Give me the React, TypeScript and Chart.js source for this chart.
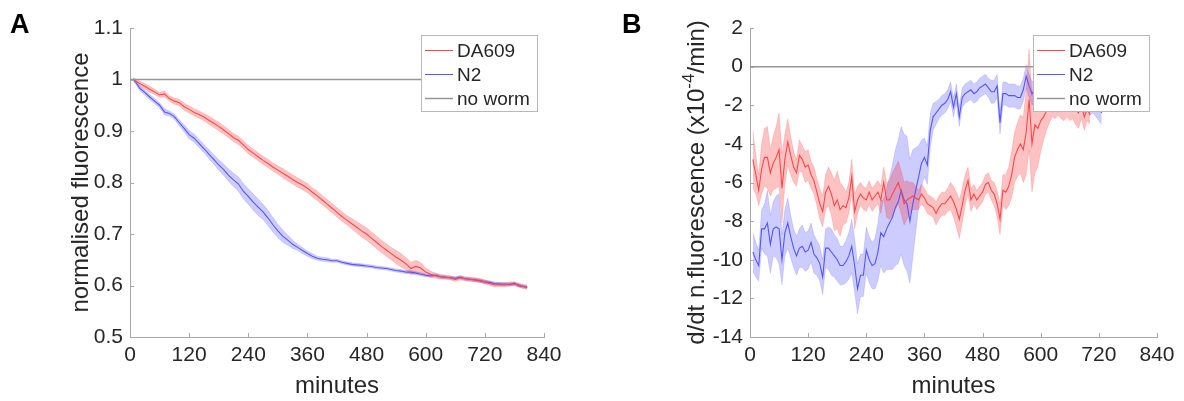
import React, { useEffect, useRef } from "react";
import { Chart, registerables } from "chart.js";

Chart.register(...registerables);

const FONT = '"Liberation Sans", Arial, Helvetica, sans-serif';
const TXT = "#262626";
const AXIS = "#a8a8a8";
const RED = "rgb(255,70,70)";
const BLUE = "rgb(85,85,255)";
const GRAY = "rgb(150,150,150)";
const RED_FILL = "rgba(255,0,0,0.24)";
const BLUE_FILL = "rgba(0,0,255,0.2)";
const RED_EDGE = "rgba(255,0,0,0.18)";
const BLUE_EDGE = "rgba(0,0,255,0.15)";

// ---------- tick labels / legend ----------
const xTicks = [0, 120, 240, 360, 480, 600, 720, 840];
const yTicksA = [0.5, 0.6, 0.7, 0.8, 0.9, 1, 1.1];
const yTicksB = [-14, -12, -10, -8, -6, -4, -2, 0, 2];
const legendLabels = ["DA609", "N2", "no worm"];

// ---------- panel A: normalised fluorescence ----------
const timeA = [
  6, 10, 20, 30, 40, 50, 60, 70, 80, 90, 100, 110, 120, 130, 140, 150, 160, 170, 180, 190, 200,
  210, 220, 230, 240, 250, 260, 270, 280, 290, 300, 310, 320, 330, 340, 350, 360, 370, 380, 390, 400,
  410, 420, 430, 440, 450, 460, 470, 480, 490, 500, 510, 520, 530, 540, 550, 560, 570, 580, 590, 600,
  610, 620, 630, 640, 650, 660, 670, 680, 690, 700, 710, 720, 730, 740, 750, 760, 770, 780, 790, 800, 806,
];
const da609A = [
  1.0, 0.998, 0.992, 0.987, 0.981, 0.976, 0.97, 0.972, 0.963, 0.958, 0.955,
  0.947, 0.942, 0.936, 0.932, 0.927, 0.921, 0.915, 0.909, 0.902, 0.895,
  0.887, 0.882, 0.873, 0.864, 0.857, 0.85, 0.843, 0.837, 0.83, 0.824,
  0.818, 0.812, 0.806, 0.8, 0.795, 0.789, 0.781, 0.774, 0.766, 0.758,
  0.75, 0.742, 0.734, 0.727, 0.72, 0.713, 0.706, 0.7, 0.692, 0.684,
  0.676, 0.669, 0.662, 0.655, 0.649, 0.642, 0.633, 0.637, 0.634, 0.626,
  0.622, 0.619, 0.617, 0.616, 0.615, 0.612, 0.615, 0.613, 0.612, 0.611,
  0.61, 0.607, 0.604, 0.601, 0.602, 0.601, 0.603, 0.603, 0.601, 0.597, 0.598,
];
const da609ABand = [
  0.002, 0.004, 0.005, 0.005, 0.006, 0.005, 0.005, 0.006, 0.005, 0.006, 0.006,
  0.007, 0.007, 0.007, 0.007, 0.007, 0.008, 0.008, 0.008, 0.008, 0.008,
  0.008, 0.008, 0.008, 0.008, 0.008, 0.008, 0.008, 0.008, 0.008, 0.008,
  0.009, 0.009, 0.009, 0.009, 0.009, 0.009, 0.009, 0.009, 0.009, 0.009,
  0.009, 0.009, 0.009, 0.009, 0.01, 0.011, 0.012, 0.012, 0.012, 0.012,
  0.012, 0.012, 0.012, 0.013, 0.013, 0.012, 0.012, 0.012, 0.01, 0.008,
  0.006, 0.005, 0.005, 0.004, 0.004, 0.004, 0.004, 0.004, 0.004, 0.004,
  0.004, 0.004, 0.004, 0.004, 0.004, 0.004, 0.004, 0.004, 0.004, 0.004, 0.004,
];
const n2A = [
  1.0, 0.997, 0.983, 0.975, 0.966, 0.958, 0.95, 0.937, 0.934, 0.928, 0.916,
  0.905, 0.893, 0.886, 0.876, 0.866, 0.855, 0.845, 0.834, 0.825, 0.814,
  0.805, 0.797, 0.783, 0.773, 0.762, 0.752, 0.743, 0.731, 0.718, 0.706,
  0.696, 0.688, 0.68, 0.674, 0.668, 0.662, 0.657, 0.653, 0.651, 0.65,
  0.648, 0.648, 0.645, 0.643, 0.641, 0.64, 0.639, 0.638, 0.637, 0.635,
  0.634, 0.633, 0.631, 0.629, 0.628, 0.626, 0.626, 0.624, 0.622, 0.62,
  0.619, 0.62, 0.617, 0.616, 0.615, 0.614, 0.616, 0.613, 0.612, 0.611,
  0.609, 0.607, 0.606, 0.604, 0.603, 0.603, 0.602, 0.604, 0.599, 0.598, 0.596,
];
const n2ABand = [
  0.002, 0.004, 0.005, 0.005, 0.005, 0.005, 0.005, 0.006, 0.005, 0.005, 0.006,
  0.007, 0.008, 0.008, 0.008, 0.008, 0.009, 0.009, 0.01, 0.011, 0.012,
  0.013, 0.014, 0.015, 0.015, 0.016, 0.016, 0.015, 0.015, 0.014, 0.013,
  0.012, 0.01, 0.008, 0.006, 0.006, 0.005, 0.005, 0.004, 0.004, 0.004,
  0.003, 0.003, 0.003, 0.003, 0.003, 0.003, 0.003, 0.003, 0.003, 0.003,
  0.003, 0.003, 0.003, 0.003, 0.003, 0.003, 0.003, 0.003, 0.003, 0.003,
  0.003, 0.003, 0.003, 0.003, 0.003, 0.003, 0.003, 0.003, 0.003, 0.003,
  0.003, 0.003, 0.003, 0.003, 0.003, 0.003, 0.003, 0.003, 0.003, 0.003, 0.003,
];
const noWormTime = [0, 800];
const noWormA = [1, 1];

// ---------- panel B: derivative (x10^-4 / min) ----------
const timeB = [
  6, 12, 18, 24, 30, 36, 42, 48, 54, 60, 66, 72, 78, 84, 90, 96, 102, 108, 114, 120,
  126, 132, 138, 144, 150, 156, 162, 168, 174, 180, 186, 192, 198, 204, 210, 216, 222, 228, 234, 240,
  246, 252, 258, 264, 270, 276, 282, 288, 294, 300, 306, 312, 318, 324, 330, 336, 342, 348, 354, 360,
  366, 372, 378, 384, 390, 396, 402, 408, 414, 420, 426, 432, 438, 444, 450, 456, 462, 468, 474, 480,
  486, 492, 498, 504, 510, 516, 522, 528, 534, 540, 546, 552, 558, 564, 570, 576, 582, 588, 594, 600,
  606, 612, 618, 624, 630, 636, 642, 648, 654, 660, 666, 672, 678, 684, 690, 696, 702, 708, 714, 720, 726,
];
const da609B = [
  -4.8, -5.6, -6.4, -5.3, -4.7, -4.7, -5.5, -5.0, -4.7, -4.3,
  -6.3, -4.8, -3.9, -4.6, -5.2, -5.5, -4.6, -4.8, -5.2, -5.1,
  -5.6, -5.9, -6.5, -7.1, -7.5, -6.5, -6.2, -6.6, -7.2, -6.9,
  -7.4, -7.2, -7.3, -6.8, -5.7, -7.5, -6.9, -6.6, -6.8, -6.9,
  -6.5, -6.9, -6.7, -6.5, -6.9, -6.0, -6.9, -6.9, -6.6, -6.3,
  -6.0, -6.5, -7.1, -6.9, -6.8, -6.7, -6.8, -6.9, -6.6, -6.8,
  -7.1, -7.2, -7.3, -7.6, -7.3, -7.1, -7.1, -6.9, -6.7, -7.0,
  -7.4, -7.9, -7.2, -6.4, -5.9, -6.9, -6.6, -6.9, -6.7, -6.5,
  -6.1, -6.0, -6.4, -6.6, -7.1, -7.9, -6.4, -6.5, -6.2, -5.6,
  -4.7, -4.3, -4.0, -4.3, -3.4, -1.7, -4.0, -3.0, -3.2, -2.8,
  -2.6, -2.3, -2.0, -1.8, -1.9, -1.7, -1.9, -2.0, -1.8, -2.0,
  -1.9, -2.2, -2.4, -2.0, -2.6, -2.2, -2.5,
];
const da609BBand = [
  1.5, 1.0, 0.8, 1.3, 1.5, 1.6, 1.2, 1.4, 1.6, 1.9,
  1.8, 1.3, 1.2, 1.0, 0.8, 0.7, 0.8, 0.7, 0.8, 0.8,
  0.7, 0.7, 0.7, 0.8, 0.8, 0.9, 1.0, 1.1, 1.3, 1.5,
  1.4, 1.0, 0.8, 0.8, 0.9, 0.9, 0.7, 0.6, 0.6, 0.6,
  0.6, 0.6, 0.6, 0.6, 0.7, 0.8, 0.9, 1.0, 1.1, 1.1,
  1.1, 1.1, 1.1, 1.0, 0.8, 0.7, 0.6, 0.5, 0.5, 0.5,
  0.5, 0.5, 0.5, 0.6, 0.6, 0.6, 0.6, 0.6, 0.7, 0.8,
  0.9, 1.0, 0.9, 0.8, 0.7, 0.6, 0.5, 0.5, 0.5, 0.5,
  0.5, 0.5, 0.5, 0.6, 0.7, 0.8, 0.8, 0.9, 1.0, 1.2,
  1.3, 1.4, 1.5, 1.7, 2.2, 2.6, 2.5, 2.5, 2.0, 1.6,
  1.2, 1.0, 0.9, 0.8, 0.8, 0.8, 0.8, 0.8, 0.8, 0.8,
  0.8, 0.8, 0.8, 0.7, 0.7, 0.6, 0.5,
];
const n2B = [
  -9.6, -10.0, -10.3, -8.4, -8.4, -8.1, -9.2, -8.4, -8.3, -8.4,
  -10.0, -8.6, -8.1, -8.8, -9.4, -9.8, -9.4, -9.3, -9.6, -9.5,
  -9.1, -9.7, -9.9, -10.2, -10.9, -9.4, -9.4, -9.6, -9.8, -10.0,
  -10.3, -10.3, -10.1, -9.8, -9.3, -10.3, -11.5, -10.8, -10.8, -9.5,
  -10.0, -10.3, -10.2, -9.6, -8.6, -8.8, -8.4, -8.1, -7.8, -7.3,
  -7.0, -6.4, -6.9, -7.1, -8.0, -7.1, -6.4, -5.7, -5.0, -4.7,
  -5.1, -3.3, -2.6, -2.4, -2.2, -2.0, -1.9, -1.7, -1.3, -2.1,
  -1.4, -2.6, -1.6, -1.4, -1.3, -1.2, -1.4, -1.3, -1.1, -1.0,
  -0.9, -1.1, -1.3, -1.3, -1.0, -2.9, -1.4, -1.4, -1.5, -1.5,
  -1.5, -1.6, -1.6, -1.2, -0.5, -1.0, -1.4, -1.2, -1.0, -1.2,
  -1.1, -1.3, -1.0, -1.2, -1.1, -1.4, -1.2, -1.3, -1.1, -1.5,
  -1.3, -1.4, -1.6, -1.4, -1.8, -1.6, -1.9, -1.8, -2.0, -2.2, -2.4,
];
const n2BBand = [
  1.0, 0.9, 0.8, 1.0, 1.3, 1.7, 1.5, 1.4, 1.6, 1.8,
  1.3, 1.2, 1.3, 1.1, 1.0, 1.0, 1.0, 1.1, 1.0, 1.0,
  1.0, 1.0, 0.9, 0.9, 0.9, 1.0, 1.1, 1.2, 1.1, 1.1,
  1.0, 1.0, 1.1, 1.2, 1.4, 1.4, 1.3, 1.1, 1.1, 1.2,
  1.2, 1.2, 1.3, 1.5, 1.7, 1.9, 2.1, 2.4, 2.7, 3.0,
  3.2, 3.3, 3.4, 3.5, 3.2, 2.8, 2.2, 1.6, 1.2, 1.0,
  1.0, 0.9, 0.7, 0.6, 0.5, 0.5, 0.5, 0.5, 0.5, 0.5,
  0.5, 0.5, 0.5, 0.5, 0.5, 0.5, 0.5, 0.5, 0.5, 0.5,
  0.5, 0.5, 0.6, 0.6, 0.6, 0.6, 0.6, 0.6, 0.6, 0.6,
  0.6, 0.6, 0.6, 0.6, 0.6, 0.6, 0.6, 0.6, 0.6, 0.6,
  0.6, 0.6, 0.6, 0.6, 0.6, 0.6, 0.6, 0.6, 0.6, 0.6,
  0.6, 0.6, 0.6, 0.6, 0.6, 0.6, 0.6, 0.6, 0.6, 0.6, 0.6,
];
const noWormB = [0, 0];

// ---------- helpers ----------
type Pt = { x: number; y: number };
const pts = (t: number[], v: number[]): Pt[] => v.map((y, i) => ({ x: t[i], y }));
const bandPts = (t: number[], v: number[], h: number[], s: number): Pt[] =>
  v.map((y, i) => ({ x: t[i], y: y + s * h[i] }));

type TitlePart = { text: string; size: number; rise: number };
type PanelSpec = {
  letter: string;
  letterX: number;
  yMin: number;
  yMax: number;
  yTicks: number[];
  yWidth: number;
  padRight: number;
  yTitleX: number;
  yTitle: TitlePart[];
  legendX: number;
  datasets: any[];
  fmt: (v: number) => string;
};

function makeDatasets(t: number[], red: number[], redH: number[], blue: number[], blueH: number[], nw: number[]) {
  const common = { pointRadius: 0, pointHoverRadius: 0, tension: 0 };
  return [
    { label: "no worm", data: pts(noWormTime, nw), borderColor: GRAY, borderWidth: 1.5, fill: false, ...common },
    { label: "DA609", data: pts(t, red), borderColor: RED, borderWidth: 1.1, fill: false, ...common },
    { label: "N2", data: pts(t, blue), borderColor: BLUE, borderWidth: 1.1, fill: false, ...common },
    { label: "DA609 upper", data: bandPts(t, red, redH, 1), borderColor: RED_EDGE, borderWidth: 0.8, backgroundColor: RED_FILL, fill: "+1", ...common },
    { label: "DA609 lower", data: bandPts(t, red, redH, -1), borderColor: RED_EDGE, borderWidth: 0.8, fill: false, ...common },
    { label: "N2 upper", data: bandPts(t, blue, blueH, 1), borderColor: BLUE_EDGE, borderWidth: 0.8, backgroundColor: BLUE_FILL, fill: "+1", ...common },
    { label: "N2 lower", data: bandPts(t, blue, blueH, -1), borderColor: BLUE_EDGE, borderWidth: 0.8, fill: false, ...common },
  ];
}

const specA: PanelSpec = {
  letter: "A",
  letterX: 10,
  yMin: 0.5,
  yMax: 1.1,
  yTicks: yTicksA,
  yWidth: 130,
  padRight: 48,
  yTitleX: 88,
  yTitle: [{ text: "normalised fluorescence", size: 24, rise: 0 }],
  legendX: 421,
  datasets: makeDatasets(timeA, da609A, da609ABand, n2A, n2ABand, noWormA),
  fmt: (v) => String(Math.round(v * 10) / 10),
};

const specB: PanelSpec = {
  letter: "B",
  letterX: 30,
  yMin: -14,
  yMax: 2,
  yTicks: yTicksB,
  yWidth: 158,
  padRight: 27,
  yTitleX: 112,
  yTitle: [
    { text: "d/dt n.fluorescence (x10", size: 24, rise: 0 },
    { text: "-4", size: 17, rise: 10 },
    { text: "/min)", size: 24, rise: 0 },
  ],
  legendX: 441,
  datasets: makeDatasets(timeB, da609B, da609BBand, n2B, n2BBand, noWormB),
  fmt: (v) => String(Math.round(v)),
};

function makeDecor(spec: PanelSpec) {
  return {
    id: "panelDecor",
    afterDatasetsDraw(chart: any) {
      const ctx = chart.ctx;
      const bx = spec.legendX;
      const by = 35;
      const bw = 116;
      const bh = 76;
      ctx.save();
      ctx.fillStyle = "#ffffff";
      ctx.fillRect(bx, by, bw, bh);
      ctx.strokeStyle = "#b8b8b8";
      ctx.lineWidth = 1;
      ctx.strokeRect(bx + 0.5, by + 0.5, bw, bh);
      const colors = [RED, BLUE, GRAY];
      const widths = [1, 1, 1.5];
      ctx.font = `19px ${FONT}`;
      ctx.textBaseline = "middle";
      ctx.textAlign = "left";
      legendLabels.forEach((lab, i) => {
        const ry = by + 15.5 + i * 24;
        ctx.strokeStyle = colors[i];
        ctx.lineWidth = widths[i];
        ctx.beginPath();
        ctx.moveTo(bx + 4, ry);
        ctx.lineTo(bx + 32, ry);
        ctx.stroke();
        ctx.fillStyle = TXT;
        ctx.fillText(lab, bx + 36, ry + 1);
      });
      ctx.restore();
    },
    afterDraw(chart: any) {
      const { ctx, chartArea: ca, scales } = chart;
      const xs = scales.x;
      const ys = scales.y;
      ctx.save();
      // inward tick marks
      ctx.strokeStyle = AXIS;
      ctx.lineWidth = 1;
      ctx.beginPath();
      xTicks.forEach((v) => {
        if (v === xTicks[0]) return;
        const px = Math.round(xs.getPixelForValue(v)) + 0.5;
        ctx.moveTo(px, ca.bottom);
        ctx.lineTo(px, ca.bottom - 4);
      });
      spec.yTicks.forEach((v) => {
        if (v === spec.yTicks[0]) return;
        const py = Math.round(ys.getPixelForValue(v)) + 0.5;
        ctx.moveTo(ca.left, py);
        ctx.lineTo(ca.left + 4, py);
      });
      ctx.stroke();

      // x title
      ctx.fillStyle = TXT;
      ctx.font = `24px ${FONT}`;
      ctx.textAlign = "center";
      ctx.textBaseline = "alphabetic";
      ctx.fillText("minutes", (ca.left + ca.right) / 2, 393);

      // y title (rotated)
      ctx.save();
      ctx.translate(spec.yTitleX, (ca.top + ca.bottom) / 2);
      ctx.rotate(-Math.PI / 2);
      ctx.textAlign = "left";
      let total = 0;
      const ws = spec.yTitle.map((p) => {
        ctx.font = `${p.size}px ${FONT}`;
        const w = ctx.measureText(p.text).width;
        total += w;
        return w;
      });
      let x = -total / 2;
      spec.yTitle.forEach((p, i) => {
        ctx.font = `${p.size}px ${FONT}`;
        ctx.fillText(p.text, x, -p.rise);
        x += ws[i];
      });
      ctx.restore();

      // panel letter
      ctx.fillStyle = "#000";
      ctx.font = `bold 27px ${FONT}`;
      ctx.textAlign = "left";
      ctx.textBaseline = "alphabetic";
      ctx.fillText(spec.letter, spec.letterX, 33);
      ctx.restore();
    },
  };
}

function Panel({ left, spec }: { left: number; spec: PanelSpec }) {
  const ref = useRef<HTMLCanvasElement>(null);
  useEffect(() => {
    if (!ref.current) return;
    const chart = new Chart(ref.current, {
      type: "line",
      data: { datasets: spec.datasets },
      options: {
        animation: false,
        responsive: false,
        devicePixelRatio: 1,
        events: [],
        layout: { padding: { left: 0, top: 28, right: spec.padRight, bottom: 0 } },
        plugins: { legend: { display: false }, tooltip: { enabled: false }, title: { display: false } },
        scales: {
          x: {
            type: "linear",
            min: 0,
            max: 840,
            afterBuildTicks: (s: any) => {
              s.ticks = xTicks.map((v) => ({ value: v }));
            },
            afterFit: (s: any) => {
              s.height = 64;
            },
            grid: { display: true, drawOnChartArea: false, drawTicks: false },
            border: { display: true, color: AXIS, width: 1 },
            ticks: {
              padding: 6,
              color: TXT,
              font: { family: FONT, size: 21 },
              maxRotation: 0,
              autoSkip: false,
              callback: (v: any) => String(v),
            },
          },
          y: {
            type: "linear",
            min: spec.yMin,
            max: spec.yMax,
            afterBuildTicks: (s: any) => {
              s.ticks = spec.yTicks.map((v) => ({ value: v }));
            },
            afterFit: (s: any) => {
              s.width = spec.yWidth;
            },
            grid: { display: true, drawOnChartArea: false, drawTicks: false },
            border: { display: true, color: AXIS, width: 1 },
            ticks: {
              padding: 7,
              color: TXT,
              font: { family: FONT, size: 21 },
              autoSkip: false,
              callback: (v: any) => spec.fmt(Number(v)),
            },
          },
        },
      },
      plugins: [makeDecor(spec)],
    } as any);
    return () => chart.destroy();
  }, [spec]);
  return (
    <canvas
      ref={ref}
      width={592}
      height={401}
      style={{ position: "absolute", left, top: 0, width: 592, height: 401 }}
    />
  );
}

export default function App() {
  return (
    <div
      style={{
        position: "absolute",
        left: 0,
        top: 0,
        width: 1184,
        height: 401,
        background: "#ffffff",
        overflow: "hidden",
      }}
    >
      <Panel left={0} spec={specA} />
      <Panel left={592} spec={specB} />
    </div>
  );
}
